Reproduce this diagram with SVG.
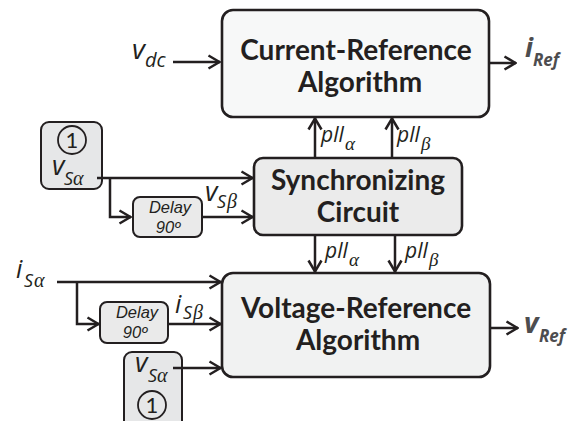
<svg xmlns="http://www.w3.org/2000/svg" width="575" height="421" viewBox="0 0 575 421">
<style>
.box{stroke:#231f20;stroke-width:2.6}
.big{font-family:Lato,"Liberation Sans",sans-serif;font-weight:bold;font-size:28px;fill:#231f20;text-anchor:middle}
.lab{font-family:"Open Sans","Liberation Sans",sans-serif;font-style:italic;fill:#231f20}
.gr{font-family:"Liberation Serif","DejaVu Serif",serif;font-style:italic;fill:#231f20}
.ref{font-family:"Open Sans","Liberation Sans",sans-serif;font-style:italic;font-weight:bold;fill:#4d4d4f}
.dl{font-family:"Liberation Sans",Arial,sans-serif;font-style:italic;font-size:16.5px;fill:#231f20;text-anchor:middle}
.one{font-family:Lato,"Liberation Sans",sans-serif;font-size:22px;fill:#231f20;text-anchor:middle}
.c{fill:none;stroke:#231f20;stroke-width:2.5;marker-end:url(#arr)}
</style>
<defs>
<marker id="arr" viewBox="0 0 14 16" refX="13" refY="8" markerWidth="14" markerHeight="16" markerUnits="userSpaceOnUse" orient="auto">
<path d="M1.5,1.5 L12.5,8 L1.5,14.5" fill="none" stroke="#231f20" stroke-width="2.5"/>
</marker>
</defs>

<g id="current-ref">
<rect class="box" x="222" y="10" width="267" height="107" rx="11" fill="#f7f8f8"/>
<text class="big" x="356" y="60">Current-Reference</text>
<text class="big" x="360" y="92">Algorithm</text>
</g>

<g id="sync">
<rect class="box" x="254" y="158" width="208" height="77" rx="9" fill="#ebebeb"/>
<text class="big" x="358" y="190">Synchronizing</text>
<text class="big" x="358" y="222">Circuit</text>
</g>

<g id="voltage-ref">
<rect class="box" x="222" y="273" width="268" height="104" rx="11" fill="#f1f2f2"/>
<text class="big" x="356" y="318">Voltage-Reference</text>
<text class="big" x="358" y="350">Algorithm</text>
</g>

<g id="vsa-top">
<rect x="41" y="122" width="61" height="67" rx="8" fill="#e6e7e8" stroke="#231f20" stroke-width="2"/>
<circle cx="72" cy="140" r="14" fill="none" stroke="#231f20" stroke-width="1.8"/>
<text class="one" x="72" y="148">1</text>
<text class="lab" x="52" y="175" font-size="27">v</text>
<text class="lab" x="64" y="185" font-size="18">S</text>
<text class="gr" x="73" y="185" font-size="20">α</text>
</g>

<g id="delay-top">
<rect x="133" y="197" width="69" height="40" rx="7" fill="#eaeaea" stroke="#231f20" stroke-width="2"/>
<text class="dl" x="170" y="213">Delay</text>
<text class="dl" x="168" y="233">90º</text>
</g>

<g id="delay-bottom">
<rect x="100" y="302" width="68" height="41" rx="7" fill="#eaeaea" stroke="#231f20" stroke-width="2"/>
<text class="dl" x="137" y="318">Delay</text>
<text class="dl" x="135" y="338">90º</text>
</g>

<g id="vsa-bottom">
<rect x="124" y="352" width="58" height="80" rx="8" fill="#e6e7e8" stroke="#231f20" stroke-width="2"/>
<text class="lab" x="135" y="372" font-size="27">v</text>
<text class="lab" x="148" y="382" font-size="18">S</text>
<text class="gr" x="157" y="382" font-size="20">α</text>
<circle cx="152" cy="405" r="14" fill="none" stroke="#231f20" stroke-width="1.8"/>
<text class="one" x="152" y="413">1</text>
</g>

<g id="labels">
<text class="lab" x="132" y="59" font-size="28">v</text>
<text class="lab" x="145" y="67" font-size="20">dc</text>
<text class="ref" x="525" y="57" font-size="27">i</text>
<text class="ref" x="533" y="66" font-size="17">Ref</text>
<text class="ref" x="524" y="333" font-size="28">v</text>
<text class="ref" x="539" y="342" font-size="17">Ref</text>
<text class="lab" x="321" y="142" font-size="21">pll</text>
<text class="gr" x="345" y="150" font-size="19">α</text>
<text class="lab" x="397" y="142" font-size="21">pll</text>
<text class="gr" x="421" y="150" font-size="19">β</text>
<text class="lab" x="325" y="258" font-size="21">pll</text>
<text class="gr" x="349" y="266" font-size="19">α</text>
<text class="lab" x="405" y="258" font-size="21">pll</text>
<text class="gr" x="429" y="266" font-size="19">β</text>
<text class="lab" x="205" y="201" font-size="27">v</text>
<text class="lab" x="217" y="208" font-size="18">S</text>
<text class="gr" x="227" y="208" font-size="20">β</text>
<text class="lab" x="16" y="278" font-size="25">i</text>
<text class="lab" x="24" y="287" font-size="18">S</text>
<text class="gr" x="34" y="287" font-size="20">α</text>
<text class="lab" x="175" y="313" font-size="25">i</text>
<text class="lab" x="183" y="319" font-size="18">S</text>
<text class="gr" x="193" y="319" font-size="20">β</text>
</g>

<g id="connectors">
<path class="c" d="M173,62 H220"/>
<path class="c" d="M489,63 H516"/>
<path class="c" d="M315,158 V118"/>
<path class="c" d="M392,158 V118"/>
<path class="c" d="M315,235 V272"/>
<path class="c" d="M395,235 V272"/>
<path class="c" d="M97,178 H253"/>
<path class="c" d="M110,178 V217 H131"/>
<path class="c" d="M202,217 H253"/>
<path class="c" d="M57,282 H221"/>
<path class="c" d="M77,282 V324 H99"/>
<path class="c" d="M168,324 H221"/>
<path class="c" d="M173,368 H221"/>
<path class="c" d="M490,328 H518"/>
</g>
</svg>
